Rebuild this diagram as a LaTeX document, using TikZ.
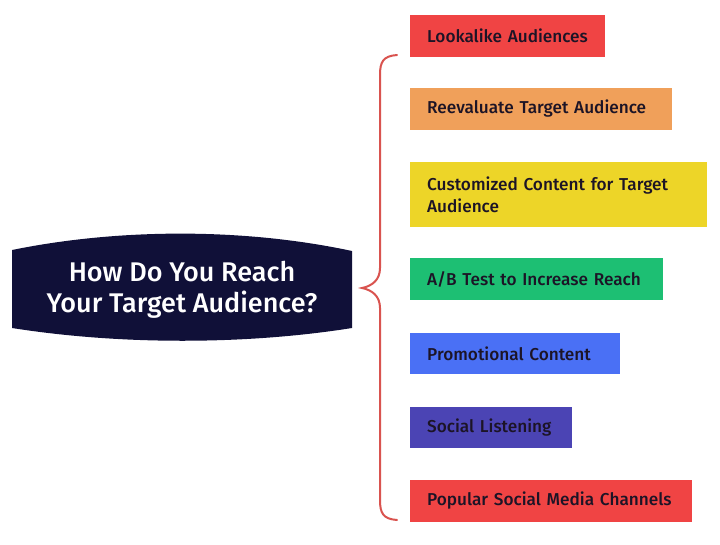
\documentclass[tikz,border=0pt]{standalone}
\usepackage{fontspec}
\setmainfont{Fira Sans}
\newfontfamily\medfont{Fira Sans}[UprightFont=* Medium]
\definecolor{InkNavy}{RGB}{16,16,56}
\definecolor{BraceRed}{RGB}{217,83,79}
\definecolor{BoxRed}{RGB}{240,68,68}
\definecolor{BoxOrange}{RGB}{240,160,90}
\definecolor{BoxYellow}{RGB}{237,213,40}
\definecolor{BoxGreen}{RGB}{29,191,115}
\definecolor{BoxBlue}{RGB}{74,112,245}
\definecolor{BoxPurple}{RGB}{75,68,180}
\definecolor{TextDark}{RGB}{28,20,38}
\usetikzlibrary{positioning, calc}

\begin{document}
\begin{tikzpicture}[x=1pt, y=-1pt,
	caja/.style={anchor=west, minimum height=41pt, inner xsep=17pt,
		text=TextDark, align=left, font=\medfont\fontsize{17.2}{22}\selectfont},
	titulo/.style={text=white, align=center,
		font=\medfont\fontsize{27}{31}\selectfont}]

	\useasboundingbox (0,0) rectangle (720,544);

	% bloque oscuro de la pregunta
	\fill[InkNavy] (12,250) .. controls (120,228) and (245,228) .. (352,251)
		-- (352,328) .. controls (245,345) and (120,345) .. (12,328) -- cycle;
	\node[titulo] (q) at (182,290) {How Do You Reach\\Your Target Audience?};

	\foreach \n/\w/\h/\y/\col/\txt [evaluate=\w as \tw using \w-34] in
	            {1/195/42/36/BoxRed/{Lookalike Audiences},
	             2/262/42/109/BoxOrange/{Reevaluate Target Audience},
	             3/297/65/194.5/BoxYellow/{Customized Content for Target\\Audience},
	             4/253/42/279/BoxGreen/{A/B Test to Increase Reach},
	             5/210/41/353.5/BoxBlue/{Promotional Content},
	             6/162/41/427.5/BoxPurple/{Social Listening},
	             7/282/42/501/BoxRed/{Popular Social Media Channels}}{
		\node[caja, fill=\col, text width=\tw pt, minimum height=\h pt]
			(b\n) at (410,\y) {\txt};
	}

	% llave
	\draw[BraceRed, line width=2pt, line cap=round]
		(397,55) .. controls (383,56) and (380,62) .. (380,75)
		-- (380,268) .. controls (380,280) and (372,286) .. (362,288)
		.. controls (372,290) and (380,296) .. (380,308)
		-- (380,500) .. controls (380,513) and (383,519) .. (397,520);
\end{tikzpicture}
\end{document}
